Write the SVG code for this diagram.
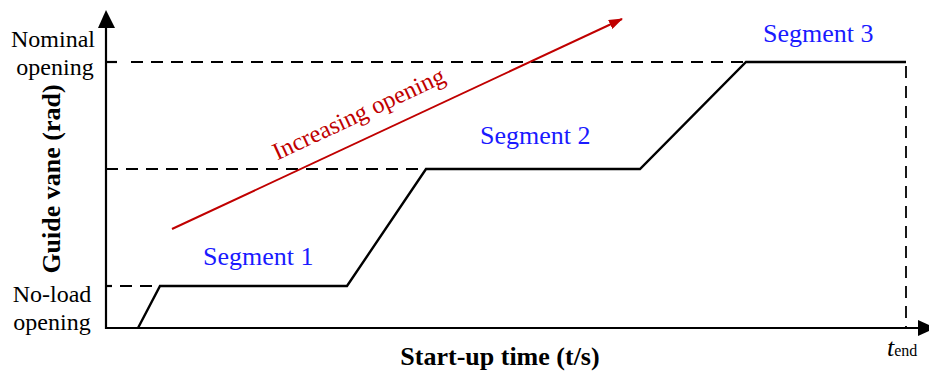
<svg xmlns="http://www.w3.org/2000/svg" width="929" height="371" viewBox="0 0 929 371">
  <style>
    .lbl { font-family: "Liberation Serif", "Times New Roman", serif; font-size: 24px; fill: #000; }
    .seg { font-family: "Liberation Serif", "Times New Roman", serif; font-size: 26px; fill: #1a1aff; }
    .axt { font-family: "Liberation Serif", "Times New Roman", serif; font-size: 26px; font-weight: bold; fill: #000; }
    .axis { stroke: #000; stroke-width: 2.2; fill: none; }
    .dash { stroke: #000; stroke-width: 1.8; fill: none; stroke-dasharray: 12 8; }
    .curve { stroke: #000; stroke-width: 2.4; fill: none; stroke-linejoin: miter; }
  </style>
  <defs>
    <marker id="redHead" markerWidth="14" markerHeight="10" refX="13" refY="5" orient="auto" markerUnits="userSpaceOnUse">
      <path d="M0,0 L14,5 L0,10 Z" fill="#c00000"/>
    </marker>
  </defs>
  <rect width="929" height="371" fill="#fff"/>

  <g id="axes">
    <line class="axis" x1="106" y1="329" x2="106" y2="24"/>
    <path d="M106,10 L98,28 L115,28 Z" fill="#000"/>
    <line class="axis" x1="105" y1="328" x2="922" y2="328"/>
    <path d="M936,328 L918,320 L918,336 Z" fill="#000"/>
    <line class="axis" x1="106" y1="62" x2="117" y2="62"/>
    <line class="axis" x1="106" y1="286" x2="112" y2="286"/>
  </g>

  <g id="connectors">
    <line class="dash" x1="131" y1="62" x2="745" y2="62"/>
    <line class="dash" x1="106" y1="169" x2="426" y2="169"/>
    <line class="dash" x1="120" y1="286" x2="160" y2="286"/>
    <line class="dash" x1="906" y1="62" x2="906" y2="328" stroke-dashoffset="-4"/>
    <polyline class="curve" points="138,328 160,286 347,286 426,169 640,169 746,62 906,62"/>
    <line x1="172" y1="229" x2="622" y2="19" stroke="#c00000" stroke-width="2" marker-end="url(#redHead)"/>
  </g>

  <g id="ylabels">
    <text class="lbl" x="53" y="47" text-anchor="middle">Nominal</text>
    <text class="lbl" x="55" y="75" text-anchor="middle">opening</text>
    <text class="lbl" x="52" y="302" text-anchor="middle">No-load</text>
    <text class="lbl" x="52" y="330" text-anchor="middle">opening</text>
    <text class="axt" transform="translate(60,179) rotate(-90)" text-anchor="middle">Guide vane (rad)</text>
  </g>

  <g id="xlabel">
    <text class="axt" x="500" y="365" text-anchor="middle">Start-up time (t/s)</text>
    <text x="887" y="356" font-family="'Liberation Serif', 'Times New Roman', serif" fill="#000"><tspan font-size="26" font-style="italic">t</tspan><tspan font-size="16">end</tspan></text>
  </g>

  <g id="segment1"><text class="seg" x="203" y="265">Segment 1</text></g>
  <g id="segment2"><text class="seg" x="480" y="144">Segment 2</text></g>
  <g id="segment3"><text class="seg" x="763" y="42">Segment 3</text></g>

  <g id="increasing">
    <text transform="translate(362,121) rotate(-24.97)" text-anchor="middle" font-family="'Liberation Serif', 'Times New Roman', serif" font-size="24.5" fill="#c00000">Increasing opening</text>
  </g>
</svg>
